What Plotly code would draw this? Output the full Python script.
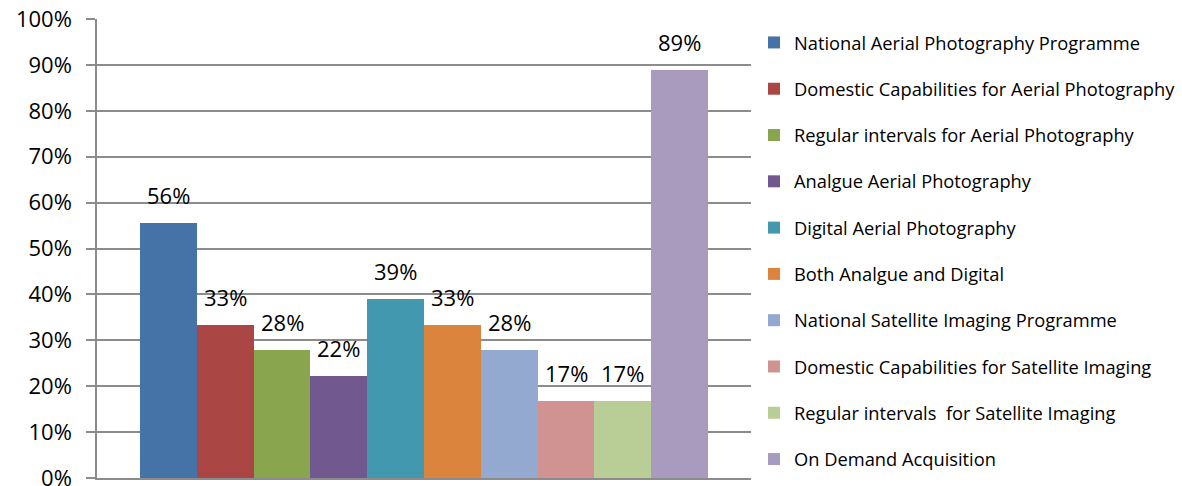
import plotly.graph_objects as go

categories = [
    "National Aerial Photography Programme",
    "Domestic Capabilities for Aerial Photography",
    "Regular intervals for Aerial Photography",
    "Analgue Aerial Photography",
    "Digital Aerial Photography",
    "Both Analgue and Digital",
    "National Satellite Imaging Programme",
    "Domestic Capabilities for Satellite Imaging",
    "Regular intervals  for Satellite Imaging",
    "On Demand Acquisition",
]
values = [0.5556, 0.3333, 0.2778, 0.2222, 0.3889, 0.3333, 0.2778, 0.1667, 0.1667, 0.8889]
labels = ["56%", "33%", "28%", "22%", "39%", "33%", "28%", "17%", "17%", "89%"]
colors = ["#4572A7", "#AA4643", "#89A54E", "#71588F", "#4198AF",
          "#DB843D", "#93A9CF", "#D19392", "#B9CD96", "#A99BBD"]
tick_vals = [0, 0.1, 0.2, 0.3, 0.4, 0.5, 0.6, 0.7, 0.8, 0.9, 1.0]

FONT = "Open Sans, sans-serif"
GRID = "#8C8C8C"

fig = go.Figure()
for i, (name, v, c) in enumerate(zip(categories, values, colors)):
    fig.add_trace(go.Bar(
        x=[name], y=[v], name=name, width=1.0,
        marker=dict(color=c, line=dict(width=0)),
        legendgroup=str(i), hoverinfo="name+y",
    ))
    fig.add_annotation(
        x=name, y=v, text=labels[i], showarrow=False,
        xanchor="center", yanchor="bottom", yshift=11,
        font=dict(family=FONT, size=22, color="black"),
    )

fig.update_layout(
    width=1182, height=486,
    margin=dict(l=97, r=431, t=19, b=8, autoexpand=False),
    plot_bgcolor="white", paper_bgcolor="white",
    barmode="overlay", bargap=0,
    showlegend=True,
    legend=dict(
        x=1.0046, y=0.989, xanchor="left", yanchor="top",
        font=dict(family=FONT, size=18.3, color="black"),
        tracegroupgap=19.5, traceorder="grouped",
        itemwidth=30,
    ),
    font=dict(family=FONT),
)
fig.update_yaxes(
    range=[0, 1], tickvals=tick_vals, tickformat=".0%",
    showgrid=True, gridcolor=GRID, gridwidth=1.5,
    showline=True, linecolor=GRID, linewidth=1.5,
    ticks="outside", ticklen=9, tickcolor=GRID, tickwidth=1.5,
    tickfont=dict(family=FONT, size=22, color="black"),
    ticklabelstandoff=10, ticklabeloverflow="allow",
    zeroline=False,
)
fig.update_xaxes(
    type="category", range=[-1.257, 10.257],
    showticklabels=False, showline=True, linecolor=GRID, linewidth=1.5,
    showgrid=False, ticks="",
)

fig.write_html("out.html", config={"displayModeBar": False},
               post_script="document.body.style.margin='0px';")
